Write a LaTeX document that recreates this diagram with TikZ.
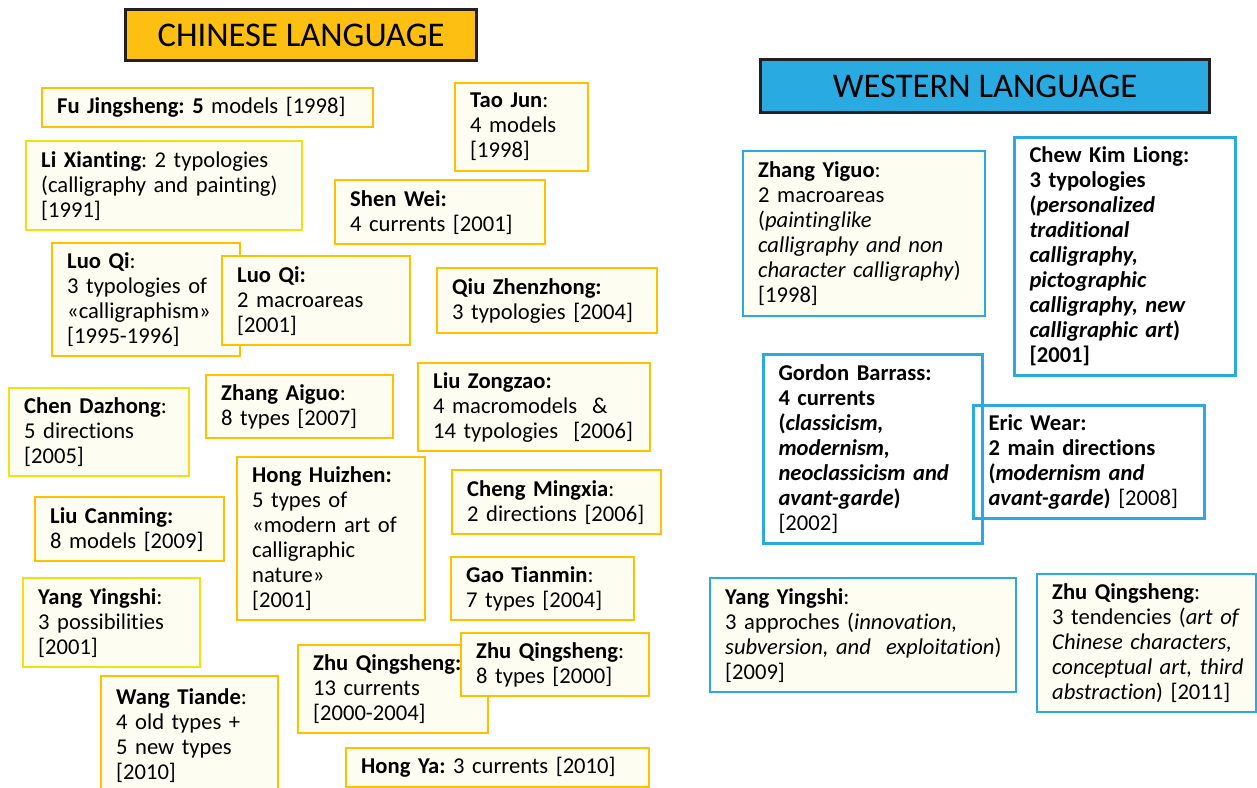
\documentclass[tikz,border=0pt]{standalone}
\usepackage{fontspec}
\setmainfont{Carlito}[Ligatures=NoCommon]
\usepackage{xcolor}
\usepackage{tikz}

\definecolor{orangeC}{RGB}{255,192,0}
\definecolor{jauneC}{RGB}{240,226,16}
\definecolor{titreC}{RGB}{252,191,18}
\definecolor{bleuW}{RGB}{41,171,226}
\definecolor{creme}{RGB}{253,253,242}
\definecolor{bordT}{RGB}{35,31,32}

\newcommand{\textecarte}{\fontsize{11.3}{12.5}\selectfont}
\newcommand{\textetitre}{\fontsize{17.3}{20}\selectfont}
\frenchspacing

\begin{document}
\begin{tikzpicture}[
  x=0.5pt, y=-0.5pt,
  fiche/.style   = {anchor=north west, align=left, inner xsep=7.5pt, inner ysep=0pt,
                    font=\textecarte, line width=1.2pt, fill=creme},
  chine/.style   = {fiche, draw=orangeC},
  chinej/.style  = {fiche, draw=jauneC},
  ouest/.style   = {fiche, draw=bleuW},
  ouestf/.style  = {fiche, draw=bleuW, line width=1.5pt, fill=white},
  titre/.style   = {anchor=north west, draw=bordT, line width=1.5pt, inner sep=0pt,
                    font=\textetitre}
]
\clip (0,0) rectangle (1257,787);
\fill[white] (0,0) rectangle (1257,787);

% langue chinoise
\node[titre, fill=titreC, minimum width=175.5pt, minimum height=25.5pt] (tchine) at (124,8) {CHINESE LANGUAGE};
\node[chine, text width=150.5pt, minimum height=19.5pt] (fu) at (41,87) {\textbf{Fu Jingsheng: 5} models [1998]};
\node[chinej, text width=123pt, minimum height=44.5pt] (li) at (25,140) {\textbf{Li Xianting}: 2 typologies\\\mbox{(calligraphy and painting)}\\{}[1991]};
\node[chine, text width=51.5pt, minimum height=44pt] (tao) at (454,82) {\textbf{Tao Jun}:\\4 models\\{}[1998]};
\node[chine, text width=90pt, minimum height=32pt] (shen) at (334,179) {\textbf{Shen Wei:}\\4 currents [2001]};
\node[chine, text width=95pt, minimum height=32.5pt] (qiu) at (436,267) {\textbf{Qiu Zhenzhong:}\\3 typologies [2004]};
\node[chine, text width=79pt, minimum height=56.5pt] (luoa) at (51,242) {\textbf{Luo Qi}:\\3 typologies of\\«calligraphism»\\{}[1995-1996]};
\node[chine, text width=79pt, minimum height=44.5pt] (luob) at (221,255) {\textbf{Luo Qi:}\\2 macroareas\\{}[2001]};
\node[chinej, text width=75pt, minimum height=44pt] (chen) at (8,387) {\textbf{Chen Dazhong}:\\5 directions\\{}[2005]};
\node[chine, text width=78.5pt, minimum height=31.5pt] (zhanga) at (205,374) {\textbf{Zhang Aiguo}:\\8 types [2007]};
\node[chine, text width=101pt, minimum height=44pt] (liuz) at (417,362) {\textbf{Liu Zongzao:}\\4 macromodels\ \ \&\\\mbox{14 typologies\ \ [2006]}};
\node[chine, text width=79pt, minimum height=81.5pt] (hongh) at (236,456) {\textbf{Hong Huizhen:}\\5 types of\\«modern art of\\calligraphic\\nature»\\{}[2001]};
\node[chine, text width=89.5pt, minimum height=32pt] (cheng) at (451,469) {\textbf{Cheng Mingxia}:\\\mbox{2 directions [2006]}};
\node[chine, text width=79.5pt, minimum height=32pt] (liuc) at (34,496) {\textbf{Liu Canming:}\\8 models [2009]};
\node[chinej, text width=73.5pt, minimum height=44.5pt] (yangc) at (22,577) {\textbf{Yang Yingshi}:\\3 possibilities\\{}[2001]};
\node[chine, text width=73.5pt, minimum height=59pt] (wang) at (100,675) {\textbf{Wang Tiande}:\\4 old types +\\5 new types\\{}[2010]};
\node[chine, text width=76.5pt, minimum height=31.5pt] (gao) at (450,556) {\textbf{Gao Tianmin}:\\7 types [2004]};
\node[chine, text width=80pt, minimum height=44pt] (zhua) at (297,644) {\textbf{Zhu Qingsheng:}\\13 currents\\{}[2000-2004]};
\node[chine, text width=79pt, minimum height=31.5pt] (zhub) at (460,632) {\textbf{Zhu Qingsheng}:\\8 types [2000]};
\node[chine, text width=136.5pt, minimum height=19.5pt] (hongy) at (345,747) {\textbf{Hong Ya:} 3 currents [2010]};

% langue occidentale
\node[titre, fill=bleuW, minimum width=224.5pt, minimum height=26.5pt] (touest) at (759,58) {WESTERN LANGUAGE};
\node[ouest, text width=106pt, minimum height=82.5pt] (zhangy) at (742,150) {\textbf{Zhang Yiguo}:\\2 macroareas\\(\textit{paintinglike}\\\textit{calligraphy and non}\\\mbox{\textit{character calligraphy})}\\{}[1998]};
\node[ouestf, text width=95.5pt, minimum height=119pt, font=\textecarte\bfseries] (chew) at (1013,136) {Chew Kim Liong:\\3 typologies\\(\textit{personalized}\\\textit{traditional}\\\textit{calligraphy,}\\\textit{pictographic}\\\mbox{\textit{calligraphy, new}}\\\mbox{\textit{calligraphic art})}\\{}[2001]};
\node[ouestf, text width=94.5pt, minimum height=94.5pt] (gordon) at (762,353) {\textbf{Gordon Barrass:}\\\textbf{4 currents}\\\textbf{(\textit{classicism,}}\\\textbf{\textit{modernism,}}\\\mbox{\textbf{\textit{neoclassicism and}}}\\\textbf{\textit{avant-garde})}\\{}[2002]};
\node[ouestf, fill=none, text width=100.5pt, minimum height=56.5pt] (eric) at (972,404) {\textbf{Eric Wear:}\\\textbf{2 main directions}\\\textbf{(\textit{modernism and}}\\\mbox{\textbf{\textit{avant-garde})} [2008]}};
\node[ouest, text width=138pt, minimum height=57pt] (yangw) at (709,577) {\textbf{Yang Yingshi}:\\\mbox{3 approches (\textit{innovation,}}\\\mbox{\textit{subversion, and\ \ exploitation})}\\{}[2009]};
\node[ouest, text width=94.5pt, minimum height=69pt] (zhuw) at (1036,573) {\textbf{Zhu Qingsheng}:\\\mbox{3 tendencies (\textit{art of}}\\\mbox{\textit{Chinese characters,}}\\\mbox{\textit{conceptual art, third}}\\\textit{abstraction}) [2011]};
\end{tikzpicture}
\end{document}
